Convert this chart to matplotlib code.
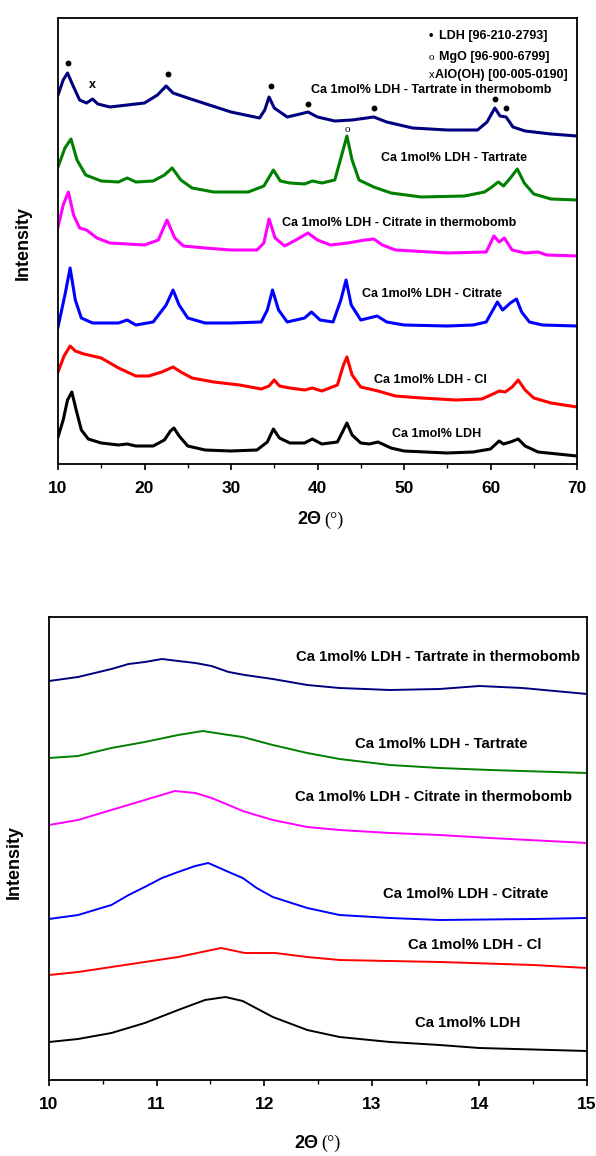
import matplotlib
matplotlib.use("Agg")
import matplotlib.pyplot as plt
from matplotlib.ticker import MultipleLocator

plt.rcParams["font.family"] = ["Liberation Sans", "DejaVu Sans"]

# ---- wide scan 10-70 deg (offset intensities, a.u.) ----
ldh_x = [10.0, 10.6, 11.1, 11.6, 12.1, 12.7, 13.5, 15, 17, 18, 19, 21, 22.3, 23.0, 23.4, 24.0, 25, 27, 30, 33,
         34.2, 34.9, 35.6, 36.8, 38.5, 39.4, 40.5, 42.3, 43.0, 43.4, 44.0, 45.0, 46.0, 47.0, 48.5, 50, 55, 58,
         60.0, 60.5, 61.0, 61.5, 62.3, 63.2, 64.0, 65.5, 70]
ldh_y = [27, 44, 64, 72, 54, 34, 25, 21, 19, 20, 18, 18, 24, 33, 36, 28, 18, 14, 13, 14,
         22, 35, 26, 21, 21, 25, 20, 22, 34, 41, 29, 21, 20, 22, 16, 13, 11, 12,
         15, 19, 23, 20, 22, 25, 18, 12, 8]

cl_x = [10.0, 10.7, 11.4, 12.0, 13, 15, 17, 19, 20.5, 22, 23.3, 24.2, 25.5, 28, 31, 33.5, 34.4, 35.0, 35.6,
        36.8, 38.5, 39.4, 40.5, 42.3, 43.0, 43.4, 44.0, 45, 47, 49, 52, 56, 59, 60.3, 61.0, 61.7, 62.5, 63.2,
        64.0, 65, 67, 70]
cl_y = [92, 108, 118, 113, 110, 106, 96, 88, 88, 92, 97, 92, 86, 82, 79, 75, 78, 84, 78,
        76, 74, 76, 73, 79, 99, 107, 89, 77, 73, 68, 66, 64, 65, 70, 73, 72, 77, 84,
        74, 66, 61, 57]

cit_x = [10.0, 10.8, 11.4, 12.0, 12.7, 14, 17, 18, 19, 21, 22.5, 23.3, 24.0, 25, 27, 30, 33.5, 34.2, 34.8,
         35.5, 36.5, 38.5, 39.3, 40.3, 41.8, 42.7, 43.3, 43.9, 45, 46.9, 48, 50, 55, 58, 59.5, 60.8, 61.4,
         62.3, 63.0, 63.6, 64.5, 66, 70]
cit_y = [137, 169, 196, 164, 146, 141, 141, 144, 139, 142, 159, 174, 159, 146, 141, 141, 142, 154, 174,
         154, 142, 146, 152, 144, 142, 164, 184, 159, 144, 148, 142, 139, 138, 139, 142, 162, 154,
         161, 165, 152, 142, 139, 138]

cit_tb_x = [10.0, 10.6, 11.2, 11.8, 12.5, 13.3, 14.5, 16, 20, 21.6, 22.6, 23.5, 24.5, 27, 30, 33, 33.8,
            34.4, 35.1, 36.2, 37.5, 38.9, 40, 41.5, 43.5, 45.5, 46.5, 47.5, 49, 55, 59.5, 60.4, 61.0, 61.6,
            62.5, 64, 65.5, 66.5, 70]
cit_tb_y = [237, 259, 272, 249, 236, 234, 226, 221, 219, 224, 244, 226, 218, 216, 214, 214, 221,
            245, 226, 218, 224, 231, 224, 219, 221, 224, 225, 219, 214, 211, 212, 228, 222, 226,
            214, 211, 212, 209, 208]

tar_x = [10.0, 10.8, 11.5, 12.2, 13.2, 15, 17, 18, 19, 21, 22.3, 23.2, 24.2, 25.5, 28, 32, 33.8, 34.9,
         35.7, 36.8, 38.5, 39.4, 40.5, 42.0, 42.8, 43.4, 44.0, 44.8, 46.5, 48.5, 52, 57, 59.3, 60.0, 60.9,
         61.5, 62.3, 63.1, 63.9, 65.0, 67, 70]
tar_y = [297, 316, 325, 304, 289, 283, 282, 286, 282, 283, 289, 296, 284, 276, 272, 272, 278, 294,
         283, 281, 280, 283, 281, 284, 309, 328, 304, 284, 277, 271, 267, 268, 272, 276, 282,
         278, 286, 295, 281, 270, 265, 264]

tar_tb_x = [10.0, 10.6, 11.1, 11.7, 12.5, 13.3, 14.0, 14.6, 16, 18, 20, 21.5, 22.5, 23.3, 25, 27.5, 30,
            33.3, 33.9, 34.4, 35.0, 36.5, 38.0, 38.9, 40, 42, 44, 46.5, 48, 51, 55, 58.5, 59.6, 60.5,
            61.1, 61.8, 62.6, 64, 67, 70]
tar_tb_y = [369, 384, 391, 379, 364, 361, 365, 360, 357, 359, 361, 369, 378, 371, 366, 359, 352,
            346, 354, 367, 356, 347, 350, 352, 347, 343, 344, 347, 342, 336, 334, 334, 342, 356,
            348, 347, 337, 333, 330, 328]

# reflection markers
ldh_peaks_x = [11.2, 22.7, 34.6, 38.9, 46.5, 60.5, 61.8]
ldh_peaks_y = [401, 390, 378, 360, 356, 365, 356]
alooh_peak = (14.0, 379)
mgo_peak = (43.4, 334)

# ---- low angle scan 10-15 deg ----
z_ldh_x = [10.0, 10.27, 10.58, 10.89, 11.2, 11.45, 11.64, 11.8, 12.08, 12.4, 12.7, 13.17, 13.63, 14.0, 15.0]
z_ldh_y = [38, 41, 47, 57, 70, 80, 83, 79, 63, 50, 43, 38, 35, 32, 29]

z_cl_x = [10.0, 10.27, 10.58, 10.89, 11.2, 11.51, 11.6, 11.82, 12.1, 12.4, 12.7, 13.63, 14.5, 15.0]
z_cl_y = [105, 108, 113, 118, 123, 130, 132, 127, 127, 123, 120, 118, 115, 112]

z_cit_x = [10.0, 10.27, 10.58, 10.74, 10.89, 11.05, 11.2, 11.36, 11.48, 11.67, 11.8, 11.93, 12.08, 12.4,
           12.7, 13.17, 13.63, 14.5, 15.0]
z_cit_y = [161, 165, 175, 185, 193, 202, 208, 214, 217, 208, 202, 192, 183, 172, 165, 162, 160, 161, 162]

z_cit_tb_x = [10.0, 10.27, 10.58, 10.89, 11.17, 11.36, 11.51, 11.67, 11.8, 12.08, 12.4, 12.7, 13.17,
              13.63, 14.1, 15.0]
z_cit_tb_y = [255, 260, 270, 280, 289, 287, 282, 275, 269, 260, 253, 250, 247, 245, 242, 237]

z_tar_x = [10.0, 10.27, 10.58, 10.89, 11.2, 11.43, 11.67, 11.8, 12.08, 12.4, 12.7, 13.17, 13.63, 14.1, 15.0]
z_tar_y = [322, 324, 332, 338, 345, 349, 345, 343, 335, 327, 321, 315, 312, 310, 307]

z_tar_tb_x = [10.0, 10.27, 10.58, 10.74, 10.89, 11.05, 11.2, 11.36, 11.51, 11.67, 11.82, 12.08, 12.4, 12.7,
              13.17, 13.63, 14.0, 14.4, 14.7, 15.0]
z_tar_tb_y = [399, 403, 411, 416, 418, 421, 419, 417, 414, 408, 405, 401, 395, 392, 390, 391, 394, 392, 389, 386]

names_lbl = ["Ca 1mol% LDH", "Ca 1mol% LDH - Cl", "Ca 1mol% LDH - Citrate",
             "Ca 1mol% LDH - Citrate in thermobomb", "Ca 1mol% LDH - Tartrate",
             "Ca 1mol% LDH - Tartrate in thermobomb"]
colors = ["black", "#ff0000", "#0000ff", "#ff00ff", "#008000", "#00007f"]

W, H = 596, 1156
fig = plt.figure(figsize=(W / 100, H / 100), dpi=100)

def px(x, y):
    return x / W, 1 - y / H

def style_axes(ax, major, minor, fs):
    ax.xaxis.set_major_locator(MultipleLocator(major))
    ax.xaxis.set_minor_locator(MultipleLocator(minor))
    ax.tick_params(axis="x", which="major", direction="out", length=4.5, width=1.2, pad=8, labelsize=fs)
    ax.tick_params(axis="x", which="minor", direction="out", length=3, width=1.0)
    ax.set_yticks([])
    for lab in ax.get_xticklabels():
        lab.set_fontweight("bold")
    for s in ax.spines.values():
        s.set_linewidth(1.3)

# top panel
ax1 = fig.add_axes([58 / W, 1 - 464 / H, 519 / W, 446 / H])
top = [(ldh_x, ldh_y), (cl_x, cl_y), (cit_x, cit_y), (cit_tb_x, cit_tb_y), (tar_x, tar_y), (tar_tb_x, tar_tb_y)]
for (xs, ys), c in zip(top, colors):
    ax1.plot(xs, ys, color=c, lw=2.2, solid_joinstyle="round")
ax1.set_xlim(10, 70)
ax1.set_ylim(0, 446)
style_axes(ax1, 10, 5, 12.5)

top_lbl_pos = [(53.8, 30), (53.1, 84), (53.2, 170), (49.4, 241), (55.8, 306), (53.2, 374)]
for (lx, ly), t in zip(top_lbl_pos, names_lbl):
    ax1.text(lx, ly, t, ha="center", va="center", fontsize=9, fontweight="bold")

ax1.plot(ldh_peaks_x, ldh_peaks_y, "o", color="black", ms=3.2)
ax1.text(alooh_peak[0], alooh_peak[1], "x", ha="center", va="center", fontsize=9, fontweight="bold")
ax1.text(mgo_peak[0], mgo_peak[1], "o", ha="center", va="center", fontsize=8, family="Liberation Serif")

# phase key
ax1.text(52.9, 428, "•", ha="left", va="center", fontsize=9, fontweight="bold")
ax1.text(54.0, 428, "LDH [96-210-2793]", ha="left", va="center", fontsize=9, fontweight="bold")
ax1.text(52.9, 407, "o", ha="left", va="center", fontsize=8, family="Liberation Serif")
ax1.text(54.0, 407, "MgO [96-900-6799]", ha="left", va="center", fontsize=9, fontweight="bold")
ax1.text(52.9, 389, "x", ha="left", va="center", fontsize=8)
ax1.text(53.6, 389, "AlO(OH) [00-005-0190]", ha="left", va="center", fontsize=9, fontweight="bold")

# bottom panel
ax2 = fig.add_axes([49 / W, 1 - 1080 / H, 538 / W, 463 / H])
bot = [(z_ldh_x, z_ldh_y), (z_cl_x, z_cl_y), (z_cit_x, z_cit_y), (z_cit_tb_x, z_cit_tb_y),
       (z_tar_x, z_tar_y), (z_tar_tb_x, z_tar_tb_y)]
for (xs, ys), c in zip(bot, colors):
    ax2.plot(xs, ys, color=c, lw=1.4, solid_joinstyle="round")
ax2.set_xlim(10, 15)
ax2.set_ylim(0, 463)
style_axes(ax2, 1, 0.5, 12.5)

bot_lbl_pos = [(13.89, 57), (13.96, 135), (13.87, 186), (13.57, 283), (13.65, 336), (13.62, 423)]
for (lx, ly), t in zip(bot_lbl_pos, names_lbl):
    ax2.text(lx, ly, t, ha="center", va="center", fontsize=10.7, fontweight="bold")

# axis titles
for (xx, yy), (ix, iy) in [((321, 520), (23, 243)), ((318, 1143), (14, 862))]:
    fig.text(*px(xx, yy), "2Θ", ha="right", va="center", fontsize=13, fontweight="bold")
    fig.text(*px(xx + 3, yy), "(°)", ha="left", va="center", fontsize=13, family="Liberation Serif")
    fig.text(*px(ix, iy), "Intensity", ha="center", va="center", rotation=90, fontsize=13, fontweight="bold")

fig.savefig("out.png", dpi=100)
